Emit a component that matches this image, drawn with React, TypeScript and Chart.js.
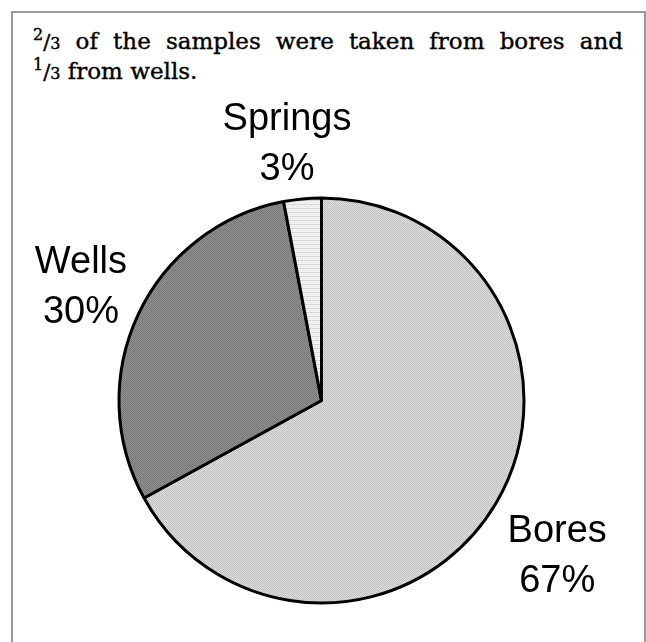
import React, { useEffect, useRef } from "react";
import { Chart, registerables } from "chart.js";

Chart.register(...registerables);

// Sample sources and their share of all samples (%)
const categories = ["Bores", "Wells", "Springs"];
const shares = [67, 30, 3];

const PAGE_W = 646;
const PAGE_H = 642;

// Small tiled textures used as slice fills
function makePattern(kind: "dots" | "dark" | "lines"): CanvasPattern | string {
  const c = document.createElement("canvas");
  c.width = 4;
  c.height = 4;
  const g = c.getContext("2d");
  if (!g) return "#ccc";
  const px = (x: number, y: number, col: string) => {
    g.fillStyle = col;
    g.fillRect(x, y, 1, 1);
  };
  if (kind === "dots") {
    g.fillStyle = "#dcdcdc";
    g.fillRect(0, 0, 4, 4);
    for (let y = 0; y < 4; y++)
      for (let x = 0; x < 4; x++) if ((x + y) % 2 === 0) px(x, y, "#c2c2c2");
  } else if (kind === "dark") {
    g.fillStyle = "#8e8e8e";
    g.fillRect(0, 0, 4, 4);
    for (let y = 0; y < 4; y++)
      for (let x = 0; x < 4; x++) if ((x + y) % 2 === 0) px(x, y, "#7a7a7a");
  } else {
    g.fillStyle = "#f3f3f3";
    g.fillRect(0, 0, 4, 4);
    for (let x = 0; x < 4; x++) {
      px(x, 0, "#d6d6d6");
      if (x % 2 === 0) px(x, 2, "#e4e4e4");
    }
  }
  const p = g.createPattern(c, "repeat");
  return p || "#ccc";
}

// Two-line "Name / NN%" labels placed outside each slice
const outsideLabels = {
  id: "outsideLabels",
  afterDatasetsDraw(chart: any, _args: any, opts: any) {
    const meta = chart.getDatasetMeta(0);
    const data = chart.data.datasets[0].data as number[];
    const labels = chart.data.labels as string[];
    const ctx = chart.ctx as CanvasRenderingContext2D;
    ctx.save();
    ctx.fillStyle = "#000";
    ctx.font = "38px 'Liberation Sans', Arial, sans-serif";
    ctx.textAlign = "center";
    ctx.textBaseline = "alphabetic";
    meta.data.forEach((arc: any, i: number) => {
      const { x, y, startAngle, endAngle } = arc.getProps(
        ["x", "y", "startAngle", "endAngle"],
        true
      );
      const mid = (startAngle + endAngle) / 2 + (opts.angleShift[i] * Math.PI) / 180;
      const d = opts.distance[i];
      const cx = x + Math.cos(mid) * d;
      const cy = y + Math.sin(mid) * d;
      const base1 = cy - 11.5;
      ctx.fillText(labels[i], cx, base1);
      ctx.fillText(`${data[i]}%`, cx, base1 + 50);
    });
    ctx.restore();
  },
};

function Frac({ n, d }: { n: string; d: string }) {
  return (
    <span style={{ whiteSpace: "nowrap" }}>
      <span style={{ fontSize: 16, verticalAlign: "9px", lineHeight: 0 }}>{n}</span>
      <span style={{ fontSize: 21, lineHeight: 0 }}>/</span>
      <span style={{ fontSize: 16, lineHeight: 0 }}>{d}</span>
    </span>
  );
}

export default function App() {
  const canvasRef = useRef<HTMLCanvasElement | null>(null);

  useEffect(() => {
    if (!canvasRef.current) return;
    const chart = new Chart(canvasRef.current, {
      type: "pie",
      data: {
        labels: categories,
        datasets: [
          {
            data: shares,
            backgroundColor: [makePattern("dots"), makePattern("dark"), makePattern("lines")],
            borderColor: "#000",
            borderWidth: 3,
            hoverOffset: 0,
          },
        ],
      },
      options: {
        responsive: false,
        animation: false,
        events: [],
        layout: {
          padding: { left: 117.5, right: 120.5, top: 196.5, bottom: 37.5 },
        },
        plugins: {
          legend: { display: false },
          tooltip: { enabled: false },
          outsideLabels: {
            distance: [281, 267, 261],
            angleShift: [2.4, 0.5, -2.2],
          },
        } as any,
      },
      plugins: [outsideLabels],
    });
    return () => chart.destroy();
  }, []);

  return (
    <>
      <div
        style={{
          position: "absolute",
          left: 11,
          top: 11,
          width: 635,
          height: 700,
          boxSizing: "border-box",
          border: "2px solid #999",
          padding: "13px 21px 0 20px",
          fontFamily: "'DejaVu Serif', serif",
          fontSize: 23,
          lineHeight: "30px",
          color: "#000",
          WebkitTextStroke: "0.4px #000",
        }}
      >
        <div style={{ textAlign: "justify", textAlignLast: "justify" }}>
          <Frac n="2" d="3" /> of the samples were taken from bores and
        </div>
        <div>
          <Frac n="1" d="3" /> from wells.
        </div>
      </div>
      <canvas
        ref={canvasRef}
        width={PAGE_W}
        height={PAGE_H}
        style={{ position: "absolute", left: 0, top: 0, width: PAGE_W, height: PAGE_H }}
      />
    </>
  );
}
